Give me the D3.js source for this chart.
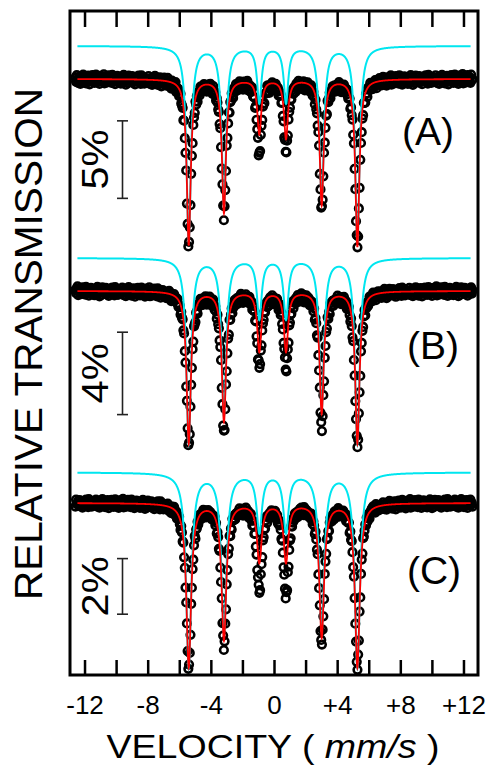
<!DOCTYPE html>
<html>
<head>
<meta charset="utf-8">
<script src="https://cdn.jsdelivr.net/npm/d3@7"></script>
<style>
  body { margin: 0; background: #fff; }
  text { font-family: "Liberation Sans", Arial, Helvetica, sans-serif; fill: #000; }
</style>
</head>
<body>
<div id="chart"></div>
<script>

// Sextet line positions (mm/s), shared by the three spectra
var linePos = [-5.40, -3.17, -0.93, 0.76, 3.02, 5.28];

// Fitted envelope (red): depth of each line, % below baseline
var fitDepthA = [10.7, 8.6, 3.5, 3.8, 8.1, 10.8];
var fitDepthB = [7.4, 6.3, 2.9, 2.9, 5.9, 7.4];
var fitDepthC = [5.9, 4.9, 2.1, 2.1, 4.8, 5.9];
var fitWidth = [0.15, 0.16, 0.18];          // HWHM, mm/s

// Measured spectra (black circles): dip depths, %
var obsDepthA = [10.8, 8.7, 4.7, 4.6, 8.3, 10.8];
var obsDepthB = [7.5, 6.8, 3.6, 3.7, 6.6, 7.5];
var obsDepthC = [5.9, 5.1, 3.1, 3.3, 5.0, 5.9];
var obsWidth = [0.18, 0.19, 0.2];
var noiseAmp = [0.33, 0.24, 0.17];          // % scatter of the counts

// Subspectrum (cyan), drawn shifted above the data
var compDepthA = [12.6, 10.3, 3.6, 3.6, 9.9, 12.6];
var compDepthB = [9.0, 7.6, 2.9, 2.9, 7.3, 9.0];
var compDepthC = [7.0, 5.7, 2.1, 2.1, 5.6, 7.0];
var compWidth = [0.17, 0.18, 0.2];
var compOffset = [2.13, 1.6, 1.1];          // % shift above baseline

// Residual pattern of the counts (in units of noiseAmp)
var resid = [0.3,-0.5,0.8,-0.1,-0.7,0.4,0.1,-0.9,0.6,0.2,-0.3,0.9,-0.6,0.0,0.5,-0.8,0.3,-0.2,0.7,-0.4,
  -1.0,0.6,0.2,-0.5,0.8,-0.3,0.1,-0.7,0.4,0.9,-0.1,-0.6,0.5,0.0,-0.9,0.7,-0.2,0.3,-0.4,0.6,
  1.0,-0.8,0.2,-0.3,0.5,-0.6,0.1,0.8,-0.5,-0.1,0.4,-0.7,0.9,-0.2,0.0,0.6,-0.9,0.3,-0.4,0.7,
  0.2,-0.6,0.5,-0.1,-0.8,0.4,0.1,-0.3,0.9,-0.5,0.6,-1.0,0.2,0.3,-0.7,0.8,-0.2,0.0,0.5,-0.4,
  0.7,-0.6,0.1,0.4,-0.9,0.3,-0.1,0.6,-0.3,0.8,-0.5,0.2,-0.8,0.9,0.0,-0.2,0.5,-0.7,0.3,0.1,-0.4];

var panelLabels = ["(A)", "(B)", "(C)"];
var scaleBarPct = [5, 4, 2];

// Axis ticks
var xTicks = [-12, -10, -8, -6, -4, -2, 0, 2, 4, 6, 8, 10, 12];
var xLabels = [-12, -8, -4, 0, 4, 8, 12];

var fitDepth = [fitDepthA, fitDepthB, fitDepthC];
var obsDepth = [obsDepthA, obsDepthB, obsDepthC];
var compDepth = [compDepthA, compDepthB, compDepthC];

// Layout
var frame = {left: 70, right: 478, top: 11, bottom: 675};
var panelBase = [79, 291, 503];             // pixel row of the 100% baseline
var panelPxPerPct = [15.5, 20.6, 27.8];
var barTopPct = [2.7, 2.0, 2.0];
var labelPos = [[428, 145], [433, 359], [434, 584]];

var svg = d3.select("#chart")
  .append("svg")
  .attr("width", 493)
  .attr("height", 769);

var x = d3.scaleLinear()
  .domain([-12.92, 12.92])
  .range([frame.left, frame.right]);

// Lorentzian sextet, % absorption at velocity v
function sextet(v, depths, g) {
  return d3.sum(linePos, function(p, i) {
    var u = (v - p) / g;
    return depths[i] / (1 + u * u);
  });
}

svg.append("clipPath").attr("id", "plotclip")
  .append("rect")
  .attr("x", frame.left + 1).attr("y", frame.top + 1)
  .attr("width", frame.right - frame.left - 2)
  .attr("height", frame.bottom - frame.top - 2);

var plot = svg.append("g").attr("clip-path", "url(#plotclip)");

var curveV = d3.range(-12.45, 12.4501, 0.01);
var channels = d3.range(-12.58, 12.6, 0.045);

[0, 1, 2].forEach(function(p) {
  var y = d3.scaleLinear()
    .domain([100, 90])
    .range([panelBase[p], panelBase[p] + 10 * panelPxPerPct[p]]);

  // Data points
  var pts = channels.map(function(v, i) {
    return {
      v: v,
      t: 100 - sextet(v, obsDepth[p], obsWidth[p]) + noiseAmp[p] * resid[(i + 37 * p) % resid.length]
    };
  });

  plot.append("g")
    .selectAll("circle")
    .data(pts)
    .enter()
    .append("circle")
    .attr("cx", function(d) { return x(d.v); })
    .attr("cy", function(d) { return y(d.t); })
    .attr("r", 3.8)
    .attr("fill", "none")
    .attr("stroke", "#000")
    .attr("stroke-width", 2.6);

  // Cyan subspectrum
  plot.append("path")
    .datum(curveV)
    .attr("fill", "none")
    .attr("stroke", "#00e6f0")
    .attr("stroke-width", 2)
    .attr("d", d3.line()
      .x(function(v) { return x(v); })
      .y(function(v) { return y(100 + compOffset[p] - sextet(v, compDepth[p], compWidth[p])); }));

  // Red fit
  plot.append("path")
    .datum(curveV)
    .attr("fill", "none")
    .attr("stroke", "#ff0000")
    .attr("stroke-width", 1.8)
    .attr("d", d3.line()
      .x(function(v) { return x(v); })
      .y(function(v) { return y(100 - sextet(v, fitDepth[p], fitWidth[p])); }));

  // Scale bar
  var y0 = y(100 - barTopPct[p]), y1 = y(100 - barTopPct[p] - scaleBarPct[p]);
  var bx = 122.5;
  var bar = svg.append("g").attr("stroke", "#222").attr("stroke-width", 1.6);
  bar.append("line").attr("x1", bx).attr("x2", bx).attr("y1", y0).attr("y2", y1);
  bar.append("line").attr("x1", bx - 5.5).attr("x2", bx + 5.5).attr("y1", y0).attr("y2", y0);
  bar.append("line").attr("x1", bx - 5.5).attr("x2", bx + 5.5).attr("y1", y1).attr("y2", y1);

  svg.append("text")
    .attr("transform", "translate(108," + ((y0 + y1) / 2) + ") rotate(-90)")
    .style("text-anchor", "middle")
    .style("font-size", "37px")
    .attr("textLength", 60)
    .attr("lengthAdjust", "spacingAndGlyphs")
    .text(scaleBarPct[p] + "%");

  svg.append("text")
    .attr("x", labelPos[p][0])
    .attr("y", labelPos[p][1])
    .style("text-anchor", "middle")
    .style("font-size", "39px")
    .text(panelLabels[p]);
});

// Frame
svg.append("rect")
  .attr("x", frame.left).attr("y", frame.top)
  .attr("width", frame.right - frame.left)
  .attr("height", frame.bottom - frame.top)
  .attr("fill", "none")
  .attr("stroke", "#000")
  .attr("stroke-width", 3);

function fmt(d) { return d > 0 ? "+" + d : String(d); }

// Bottom axis with labels
var bottomAxis = svg.append("g")
  .attr("transform", "translate(0," + frame.bottom + ")")
  .call(d3.axisBottom(x)
    .tickValues(xTicks)
    .tickSizeInner(-15)
    .tickSizeOuter(0)
    .tickPadding(21)
    .tickFormat(function(d) { return xLabels.indexOf(d) >= 0 ? fmt(d) : ""; }));
bottomAxis.select(".domain").remove();
bottomAxis.selectAll("line").attr("stroke", "#000").attr("stroke-width", 2.5);
bottomAxis.selectAll("text")
  .style("font-size", "26px")
  .style("font-family", "'Liberation Sans', Arial, sans-serif")
  .attr("fill", "#000");

// Top axis, ticks only
var topAxis = svg.append("g")
  .attr("transform", "translate(0," + frame.top + ")")
  .call(d3.axisTop(x)
    .tickValues(xTicks)
    .tickSizeInner(-16)
    .tickSizeOuter(0)
    .tickFormat(""));
topAxis.select(".domain").remove();
topAxis.selectAll("line").attr("stroke", "#000").attr("stroke-width", 2.5);

// Axis titles
var xt = svg.append("text")
  .attr("x", 273)
  .attr("y", 758)
  .style("text-anchor", "middle")
  .style("font-size", "33px")
  .attr("textLength", 333)
  .attr("lengthAdjust", "spacingAndGlyphs");
xt.append("tspan").text("VELOCITY ( ");
xt.append("tspan").style("font-style", "italic").text("mm/s");
xt.append("tspan").text(" )");

svg.append("text")
  .attr("transform", "translate(42,344) rotate(-90)")
  .style("text-anchor", "middle")
  .style("font-size", "38px")
  .attr("textLength", 512)
  .attr("lengthAdjust", "spacingAndGlyphs")
  .text("RELATIVE TRANSMISSION");

</script>
</body>
</html>
